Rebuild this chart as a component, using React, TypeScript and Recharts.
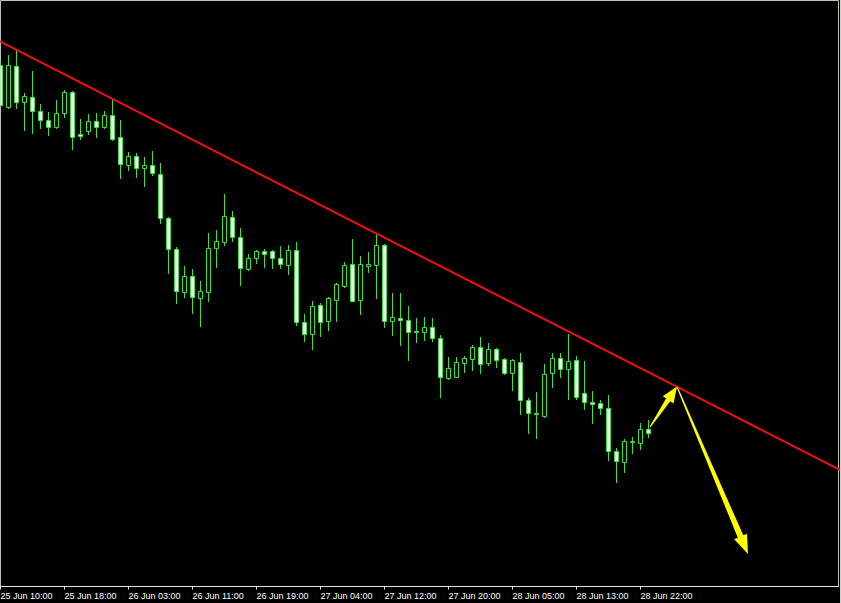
import React from 'react';
import { ComposedChart, Bar, XAxis, YAxis, ReferenceLine, ReferenceArea } from 'recharts';

// hourly bars, index 0 = 25 Jun 10:00
const tickIndex = [0, 8, 16, 24, 32, 40, 48, 56, 64, 72, 80];
const tickLabels = [
  '25 Jun 10:00', '25 Jun 18:00', '26 Jun 03:00', '26 Jun 11:00', '26 Jun 19:00', '27 Jun 04:00',
  '27 Jun 12:00', '27 Jun 20:00', '28 Jun 05:00', '28 Jun 13:00', '28 Jun 22:00',
];

const openP = [
  1.1435, 1.1393, 1.1434, 1.1398, 1.1403, 1.1389, 1.1380, 1.1373, 1.1387, 1.1408,
  1.1366, 1.1369, 1.1379, 1.1373, 1.1385, 1.1363, 1.1335, 1.1344, 1.1332, 1.1335,
  1.1326, 1.1282, 1.1251, 1.1208, 1.1224, 1.1202, 1.1208, 1.1252, 1.1258, 1.1283,
  1.1263, 1.1231, 1.1242, 1.1249, 1.1249, 1.1242, 1.1235, 1.1250, 1.1178, 1.1166,
  1.1195, 1.1179, 1.1200, 1.1214, 1.1236, 1.1200, 1.1234, 1.1235, 1.1255, 1.1179,
  1.1182, 1.1180, 1.1169, 1.1168, 1.1173, 1.1162, 1.1122, 1.1123, 1.1137, 1.1141,
  1.1153, 1.1137, 1.1151, 1.1141, 1.1127, 1.1138, 1.1100, 1.1087, 1.1084, 1.1127,
  1.1142, 1.1131, 1.1140, 1.1107, 1.1098, 1.1097, 1.1092, 1.1049, 1.1038, 1.1058,
  1.1057, 1.1071,
];
const highP = [
  1.1440, 1.1445, 1.1450, 1.1407, 1.1429, 1.1396, 1.1388, 1.1400, 1.1410, 1.1409,
  1.1381, 1.1386, 1.1387, 1.1389, 1.1401, 1.1380, 1.1348, 1.1347, 1.1343, 1.1349,
  1.1337, 1.1283, 1.1253, 1.1234, 1.1231, 1.1219, 1.1267, 1.1270, 1.1306, 1.1289,
  1.1272, 1.1246, 1.1250, 1.1251, 1.1250, 1.1254, 1.1255, 1.1258, 1.1186, 1.1199,
  1.1197, 1.1203, 1.1217, 1.1238, 1.1261, 1.1244, 1.1248, 1.1267, 1.1256, 1.1207,
  1.1207, 1.1194, 1.1182, 1.1183, 1.1182, 1.1165, 1.1143, 1.1143, 1.1144, 1.1155,
  1.1163, 1.1157, 1.1152, 1.1142, 1.1141, 1.1147, 1.1102, 1.1108, 1.1136, 1.1147,
  1.1147, 1.1166, 1.1144, 1.1139, 1.1109, 1.1100, 1.1105, 1.1052, 1.1061, 1.1063,
  1.1077, 1.1080,
];
const lowP = [
  1.1393, 1.1392, 1.1392, 1.1370, 1.1367, 1.1372, 1.1365, 1.1372, 1.1383, 1.1351,
  1.1361, 1.1366, 1.1363, 1.1372, 1.1360, 1.1322, 1.1330, 1.1323, 1.1314, 1.1325,
  1.1277, 1.1227, 1.1197, 1.1203, 1.1187, 1.1174, 1.1199, 1.1233, 1.1255, 1.1259,
  1.1215, 1.1230, 1.1237, 1.1233, 1.1232, 1.1232, 1.1226, 1.1175, 1.1159, 1.1151,
  1.1164, 1.1170, 1.1179, 1.1213, 1.1199, 1.1186, 1.1228, 1.1202, 1.1173, 1.1165,
  1.1155, 1.1140, 1.1158, 1.1160, 1.1159, 1.1103, 1.1121, 1.1123, 1.1128, 1.1130,
  1.1127, 1.1135, 1.1133, 1.1126, 1.1110, 1.1086, 1.1067, 1.1062, 1.1083, 1.1113,
  1.1123, 1.1101, 1.1101, 1.1091, 1.1077, 1.1086, 1.1040, 1.1018, 1.1028, 1.1047,
  1.1051, 1.1063,
];
const closeP = [
  1.1395, 1.1435, 1.1398, 1.1404, 1.1389, 1.1380, 1.1373, 1.1387, 1.1408, 1.1363,
  1.1364, 1.1379, 1.1373, 1.1385, 1.1361, 1.1336, 1.1344, 1.1332, 1.1335, 1.1327,
  1.1282, 1.1251, 1.1209, 1.1224, 1.1203, 1.1209, 1.1252, 1.1259, 1.1284, 1.1263,
  1.1232, 1.1242, 1.1249, 1.1246, 1.1242, 1.1236, 1.1250, 1.1178, 1.1166, 1.1194,
  1.1178, 1.1202, 1.1216, 1.1235, 1.1199, 1.1236, 1.1236, 1.1255, 1.1179, 1.1183,
  1.1180, 1.1168, 1.1168, 1.1173, 1.1162, 1.1123, 1.1132, 1.1138, 1.1142, 1.1153,
  1.1136, 1.1151, 1.1140, 1.1127, 1.1140, 1.1100, 1.1087, 1.1086, 1.1126, 1.1142,
  1.1131, 1.1139, 1.1103, 1.1098, 1.1096, 1.1092, 1.1049, 1.1039, 1.1059, 1.1059,
  1.1071, 1.1067,
];

// trend line and the two drawn arrows (bar index, price)
const trendLine = [{ x: -0.0625, y: 1.1459 }, { x: 105.0625, y: 1.103 }];
const arrowUp = [{ x: 81.2, y: 1.10735 }, { x: 84.5625, y: 1.1114 }];
const arrowDown = [{ x: 84.6, y: 1.1113 }, { x: 93.4375, y: 1.09465 }];

const X_DOMAIN = [0, 104.75];
const Y_DOMAIN = [1.0914, 1.15];

const CANDLE = '#3be03b';
const BEAR_FILL = '#f0fff0';
const ARROW = '#ffff00';

const data = openP.map((o, i) => ({
  i,
  open: o,
  high: highP[i],
  low: lowP[i],
  close: closeP[i],
  range: [lowP[i], highP[i]],
}));

const Candle = (props: any) => {
  const { x, y, width, height, payload } = props;
  if (!payload) return null;
  const { open, high, low, close } = payload;
  const cx = Math.round(x + width / 2 - 0.5) + 0.5;
  const top = Math.min(y, y + height);
  const bottom = Math.max(y, y + height);
  const k = (bottom - top) / (high - low);
  const at = (p: number) => Math.round(top + (high - p) * k - 0.5) + 0.5;
  const yO = at(open);
  const yC = at(close);
  const bTop = Math.min(yO, yC);
  const bBot = Math.max(yO, yC);
  const bull = close >= open;
  return (
    <g>
      <line x1={cx} x2={cx} y1={at(high)} y2={at(low)} stroke={CANDLE} strokeLinecap="square" />
      <path
        d={`M${cx - 2},${bTop}H${cx + 2}V${bBot}H${cx - 2}Z`}
        fill={bull ? '#000000' : BEAR_FILL}
        stroke={CANDLE}
      />
    </g>
  );
};

const arrowShape = (headLen: number, headHalf: number, shaftHalf: number) => (props: any) => {
  const { x1, y1, x2, y2 } = props;
  const dx = x2 - x1;
  const dy = y2 - y1;
  const len = Math.hypot(dx, dy) || 1;
  const ux = dx / len;
  const uy = dy / len;
  const nx = -uy;
  const ny = ux;
  const bx = x2 - ux * headLen;
  const by = y2 - uy * headLen;
  const pts = [
    [x1 + nx * 0.6, y1 + ny * 0.6],
    [bx + nx * shaftHalf, by + ny * shaftHalf],
    [bx + nx * headHalf, by + ny * headHalf],
    [x2, y2],
    [bx - nx * headHalf, by - ny * headHalf],
    [bx - nx * shaftHalf, by - ny * shaftHalf],
    [x1 - nx * 0.6, y1 - ny * 0.6],
  ];
  return <polygon points={pts.map((p) => p.join(',')).join(' ')} fill={ARROW} />;
};

const TimeTick = (props: any) => {
  const { x, y, payload } = props;
  const idx = tickIndex.indexOf(payload.value);
  return (
    <text x={x} y={y} dy={7} fill="#ffffff" fontSize={9} fontFamily="Liberation Sans, Arial, sans-serif" textAnchor="start">
      {tickLabels[idx]}
    </text>
  );
};

export default function App() {
  return (
    <div
      style={{
        position: 'fixed',
        left: 0,
        top: 0,
        width: 840,
        height: 603,
        background: '#000000',
        borderRight: '1px solid #d4d0c8',
      }}
    >
      <ComposedChart width={840} height={603} data={data} margin={{ top: 0.5, right: 1.5, bottom: 0, left: 0.5 }}>
        <XAxis
          dataKey="i"
          type="number"
          domain={X_DOMAIN}
          allowDataOverflow
          ticks={tickIndex}
          interval={0}
          height={16.5}
          tickSize={3}
          axisLine={{ stroke: '#e8e8e8' }}
          tickLine={{ stroke: '#e8e8e8' }}
          tick={<TimeTick />}
        />
        <YAxis type="number" domain={Y_DOMAIN} allowDataOverflow hide />
        <ReferenceArea
          x1={X_DOMAIN[0]}
          x2={X_DOMAIN[1]}
          y1={Y_DOMAIN[0]}
          y2={Y_DOMAIN[1]}
          fill="none"
          fillOpacity={0}
          stroke="#c0c0c0"
          strokeOpacity={1}
        />
        <Bar dataKey="range" barSize={5} shape={<Candle />} isAnimationActive={false} />
        <ReferenceLine segment={trendLine} stroke="#f01010" strokeWidth={2} ifOverflow="visible" />
        <ReferenceLine segment={arrowUp} ifOverflow="visible" shape={arrowShape(16, 6.5, 2.5)} />
        <ReferenceLine segment={arrowDown} ifOverflow="visible" shape={arrowShape(19, 7, 3)} />
      </ComposedChart>
    </div>
  );
}
